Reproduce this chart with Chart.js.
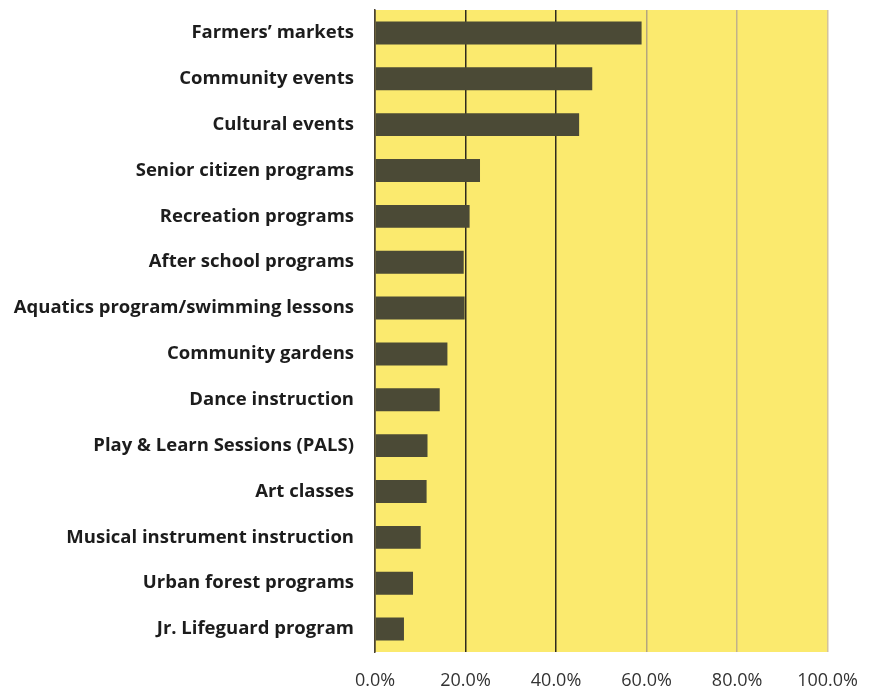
<!DOCTYPE html>
<html>
<head>
<meta charset="utf-8">
<script src="https://cdn.jsdelivr.net/npm/chart.js@4"></script>
<style>
  html, body { margin: 0; padding: 0; background: #ffffff; }
  #wrap { width: 876px; height: 691px; }
</style>
</head>
<body>
<div id="wrap"><canvas id="programChart"></canvas></div>
<script>
// Program interest (percent of respondents)

const programs = [
  "Farmers\u2019 markets",
  "Community events",
  "Cultural events",
  "Senior citizen programs",
  "Recreation programs",
  "After school programs",
  "Aquatics program/swimming lessons",
  "Community gardens",
  "Dance instruction",
  "Play & Learn Sessions (PALS)",
  "Art classes",
  "Musical instrument instruction",
  "Urban forest programs",
  "Jr. Lifeguard program"
];

const percents = [58.9, 48.0, 45.1, 23.2, 20.9, 19.6, 19.8, 16.0, 14.3, 11.6, 11.4, 10.1, 8.4, 6.4];

const xTicks = [0, 20, 40, 60, 80, 100];

// grid line colours per tick (scan shows first two darker)
const gridColors = ["#4a4232", "#2e2a1e", "#2e2a1e", "#b5a67e", "#c2b28a", "#d3c39a"];

const plotBackground = {
  id: "plotBackground",
  beforeDraw(chart) {
    const { ctx, chartArea } = chart;
    ctx.save();
    ctx.fillStyle = "#fbea6e";
    ctx.fillRect(chartArea.left, chartArea.top, chartArea.right - chartArea.left, chartArea.bottom - chartArea.top);
    ctx.restore();
  }
};

const ctx = document.getElementById("programChart");

new Chart(ctx, {
  type: "bar",
  data: {
    labels: programs,
    datasets: [
      {
        label: "Programs",
        data: percents,
        backgroundColor: "#4b4a36",
        borderWidth: 0,
        barPercentage: 0.5,
        categoryPercentage: 1.0
      }
    ]
  },
  options: {
    indexAxis: "y",
    responsive: true,
    maintainAspectRatio: false,
    animation: false,
    layout: {
      padding: { top: 10, right: 44, bottom: 0, left: 0 }
    },
    plugins: {
      legend: { display: false },
      tooltip: { enabled: false }
    },
    scales: {
      x: {
        min: 0,
        max: 100,
        afterBuildTicks: (scale) => {
          scale.ticks = xTicks.map((v) => ({ value: v }));
        },
        afterFit: (scale) => {
          scale.height = 39;
        },
        ticks: {
          padding: 18,
          color: "#333333",
          font: { family: "Open Sans", size: 18 },
          callback: (value) => value.toFixed(1) + "%"
        },
        grid: {
          drawTicks: false,
          lineWidth: 1.5,
          color: (c) => gridColors[c.index] || "#c2b28a"
        },
        border: { display: false }
      },
      y: {
        afterFit: (scale) => {
          scale.width = 375;
          scale.paddingTop = 0;
          scale.paddingBottom = 0;
        },
        ticks: {
          padding: 21,
          color: "#1c1c1c",
          font: { family: "Open Sans", size: 18.5, weight: "bold" }
        },
        grid: { display: false, drawTicks: false },
        border: { display: true, color: "#4a4232", width: 1.5 }
      }
    }
  },
  plugins: [plotBackground]
});
</script>
</body>
</html>
